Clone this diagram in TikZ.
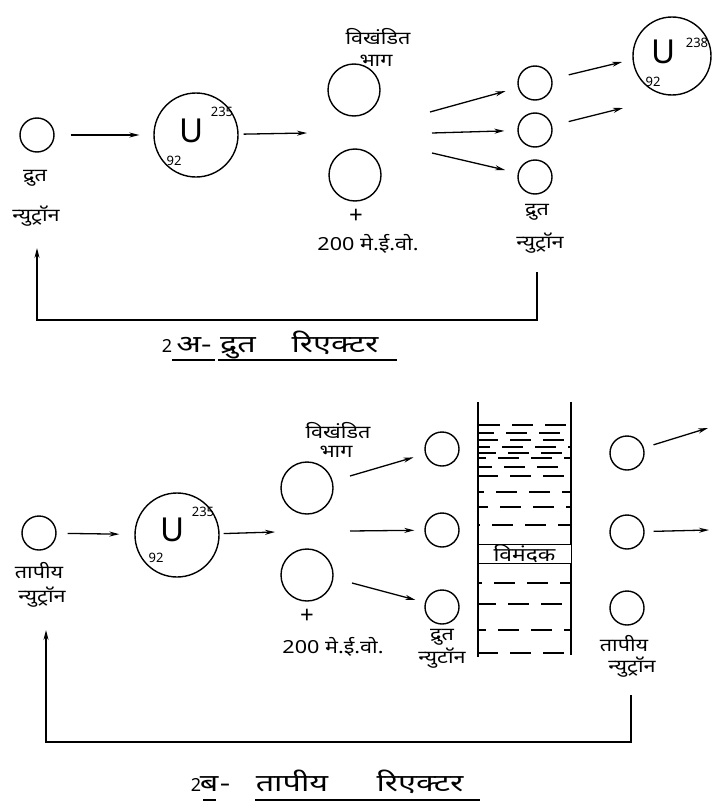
\documentclass[tikz,border=0pt]{standalone}
\usepackage{fontspec}
\setmainfont{Noto Sans}
\newfontfamily\dev[Script=Devanagari,FakeStretch=1.2]{Noto Sans}
\newfontfamily\devw[Script=Devanagari,FakeStretch=1.35]{Noto Sans}
\usetikzlibrary{arrows.meta}
\begin{document}
\begin{tikzpicture}[x=1pt,y=-1pt,
  sn/.style={circle,draw,line width=1.4pt,minimum size=34pt,inner sep=0pt},
  bign/.style={circle,draw,line width=1.4pt,minimum size=84pt,inner sep=0pt},
  fragn/.style={circle,draw,line width=1.4pt,minimum size=52pt,inner sep=0pt},
  arr/.style={line width=1.3pt,-{Stealth[length=10pt,width=5pt]}},
  ln/.style={line width=1.3pt},
  lbl/.style={font=\dev\fontsize{18}{18}\selectfont,inner sep=0pt},
  capt/.style={font=\devw\fontsize{24}{24}\selectfont,inner sep=0pt,anchor=base},
  elem/.style={font=\fontsize{33}{33}\selectfont,inner sep=0pt},
  iso/.style={font=\bfseries\fontsize{13}{13}\selectfont,inner sep=0pt},
  dline/.style={line width=1.1pt,dash pattern=on 21pt off 12pt}
]
\useasboundingbox (0,0) rectangle (716,808);

% ---------------- top: fast reactor ----------------
\node[sn] (tn) at (37,135) {};
\node[lbl] (tnl1) at (35,178) {द्रुत};
\node[lbl] (tnl2) at (36,216) {न्युट्रॉन};

\node[bign] (u1) at (196,135) {};
\node[elem] (u1s) at (192,131) {U};
\node[iso] (u1a) at (222,112) {235};
\node[iso] (u1z) at (174,161) {92};

\coordinate (c1) at (307,133);
\draw[arr,shorten <=16pt,shorten >=14pt] (tn) -- (u1);
\draw[arr,shorten <=5pt] (u1) -- (c1);

\node[fragn] (f1) at (354,90) {};
\node[fragn] (f2) at (355,175) {};
\node[lbl] (fl1) at (378,37) {विखंडित};
\node[lbl] (fl2) at (376,61) {भाग};
\node[font=\fontsize{24}{24}\selectfont,inner sep=0pt] (fplus) at (356,216) {+};
\node[lbl] (fe) at (368,244) {200 मे.ई.वो.};

\node[sn] (n1) at (535,83) {};
\node[sn] (n2) at (535,130) {};
\node[sn] (n3) at (535,177) {};
\coordinate (s1) at (430,112);
\coordinate (s2) at (432,133);
\coordinate (s3) at (432,153);
\draw[arr,shorten >=13pt] (s1) -- (n1);
\draw[arr,shorten >=13pt] (s2) -- (n2);
\draw[arr,shorten >=13pt] (s3) -- (n3);
\node[lbl] (nl1) at (537,212) {द्रुत};
\node[lbl] (nl2) at (540,243) {न्युट्रॉन};

\node[bign,minimum size=78pt] (u238) at (672,56) {};
\node[elem] (u238s) at (664,52) {U};
\node[iso] (u238a) at (697,43) {238};
\node[iso] (u238z) at (653,82) {92};
\coordinate (e1) at (622,62);
\coordinate (e2) at (623,108);
\draw[arr,shorten <=17pt] (n1) -- (e1);
\draw[arr,shorten <=17pt] (n2) -- (e2);

\coordinate (fb1a) at (537,272);
\coordinate (fb1b) at (37,248);
\draw[arr] (fb1a) -- ++(0,48) -| (fb1b);

\node[capt,font=\fontsize{18}{18}\selectfont] (ca1) at (167,352) {2};
\node[capt] (ca2) at (194,352) {अ-};
\node[capt] (ca3) at (238,352) {द्रुत};
\node[capt] (ca4) at (335,352) {रिएक्टर};
\draw[ln] (172,360) -- (215,360);
\draw[ln] (218,360) -- (397,360);

% ---------------- bottom: thermal reactor ----------------
\node[sn] (tt) at (39,533) {};
\node[lbl] (ttl1) at (39,571) {तापीय};
\node[lbl] (ttl2) at (42,597) {न्युट्रॉन};

\node[bign] (u2) at (177,535) {};
\node[elem] (u2s) at (173,530) {U};
\node[iso] (u2a) at (203,512) {235};
\node[iso] (u2z) at (156,558) {92};
\coordinate (c2) at (275,532);
\draw[arr,shorten <=11pt,shorten >=15pt] (tt) -- (u2);
\draw[arr,shorten <=4pt] (u2) -- (c2);

\node[fragn] (g1) at (307,488) {};
\node[fragn] (g2) at (307,575) {};
\node[lbl] (gl1) at (338,431) {विखंडित};
\node[lbl] (gl2) at (336,452) {भाग};
\node[font=\fontsize{24}{24}\selectfont,inner sep=0pt] (gplus) at (307,616) {+};
\node[lbl] (ge) at (333,647) {200 मे.ई.वो.};

\node[sn] (m1) at (442,449) {};
\node[sn] (m2) at (442,530) {};
\node[sn] (m3) at (442,607) {};
\coordinate (t1) at (350,476);
\coordinate (t2) at (350,531);
\coordinate (t3) at (352,583);
\draw[arr,shorten >=12pt] (t1) -- (m1);
\draw[arr,shorten >=10pt] (t2) -- (m2);
\draw[arr,shorten >=10pt] (t3) -- (m3);
\node[lbl] (ml1) at (442,637) {द्रुत};
\node[lbl] (ml2) at (442,658) {न्युटॉन};

% moderator
\draw[ln] (478,402) -- (478,657);
\draw[ln] (571,402) -- (571,655);
\foreach \yy/\ph in {425/0,433/6,440/2,447/10,453/4,458/14,467/8,476/2,492/16,507/12,525/20,583/18,604/4,630/14,653/2}
  \draw[dline,dash phase=\ph pt] (479,\yy) -- (570,\yy);
\node[draw,line width=1pt,fill=white,minimum width=93pt,minimum height=19pt,inner sep=0pt,
      font=\dev\fontsize{19}{19}\selectfont] (mod) at (524.5,553.5) {विमंदक};

\node[sn] (r1) at (627,453) {};
\node[sn] (r2) at (627,532) {};
\node[sn] (r3) at (627,608) {};
\coordinate (h1) at (708,428);
\coordinate (h2) at (709,530);
\draw[arr,shorten <=10pt] (r1) -- (h1);
\draw[arr,shorten <=9pt] (r2) -- (h2);
\node[lbl] (rl1) at (624,644) {तापीय};
\node[lbl] (rl2) at (632,667) {न्युट्रॉन};

\coordinate (fb2a) at (631,695);
\coordinate (fb2b) at (46,630);
\draw[arr] (fb2a) -- ++(0,47) -| (fb2b);

\node[capt,font=\fontsize{18}{18}\selectfont] (cb1) at (196,791) {2};
\node[capt] (cb2) at (209,791) {ब};
\node[capt] (cb3) at (225,791) {-};
\node[capt] (cb4) at (292,791) {तापीय};
\node[capt] (cb5) at (420,791) {रिएक्टर};
\draw[ln] (203,800) -- (216,800);
\draw[ln] (255,800) -- (480,800);
\end{tikzpicture}
\end{document}
